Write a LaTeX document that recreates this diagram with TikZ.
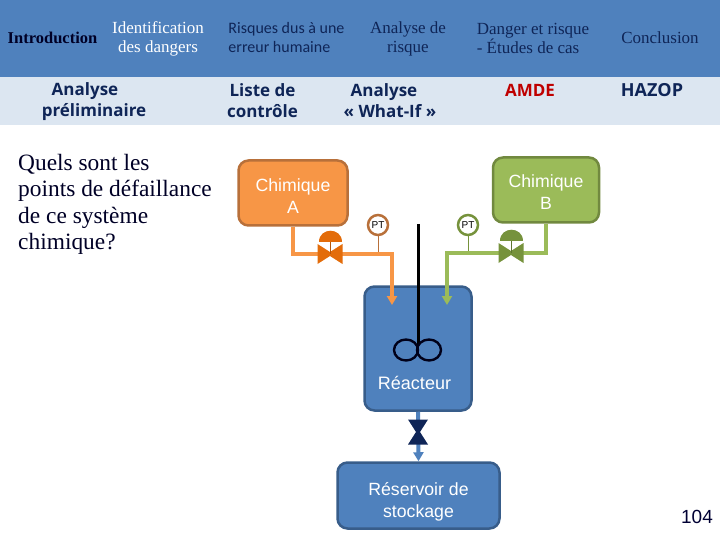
\documentclass[tikz,border=0pt]{standalone}
\usepackage{fontspec}
\setmainfont{Liberation Serif}
\setsansfont{Liberation Sans}
\newfontfamily\fontmenu{Carlito}
\newfontfamily\fontsous{Open Sans}
\usetikzlibrary{arrows.meta}
\definecolor{bleuTitre}{HTML}{4F81BD}
\definecolor{bleuBord}{HTML}{385D8A}
\definecolor{bleuPale}{HTML}{DCE6F1}
\definecolor{marine}{HTML}{0F2557}
\definecolor{orangeFond}{HTML}{F79646}
\definecolor{orangeBord}{HTML}{B8703A}
\definecolor{orangeVanne}{HTML}{E36C0A}
\definecolor{vertFond}{HTML}{9BBB59}
\definecolor{vertBord}{HTML}{71893F}
\definecolor{vertVanne}{HTML}{76923C}
\tikzset{
	menu/.style={inner sep=0pt,align=center,text=marine,font=\fontsize{17}{19}\selectfont},
	sousmenu/.style={inner sep=0pt,align=center,text=marine,font=\fontsous\bfseries\fontsize{17}{21}\selectfont},
	cuve/.style={draw,line width=2.5pt,rounded corners=10pt,align=center,text=white,inner sep=0pt,font=\sffamily\fontsize{17.7}{22}\selectfont},
	tuyau/.style={line width=4pt,-{Triangle[length=9pt,width=10pt]}},
	capteur/.style={circle,draw,fill=white,line width=2.5pt,minimum size=20pt,inner sep=0pt,font=\sffamily\fontsize{10}{10}\selectfont},
	pics/vanne/.style={code={
		\fill[#1] (-12.5,-10) -- (0,-2) -- (12.5,-10) -- (12.5,10) -- (0,2) -- (-12.5,10) -- cycle;
	}},
	pics/dome/.style={code={
		\draw[#1!80!black,line width=0.6pt] (0,-12) -- (0,0);
		\fill[#1] (-11.5,-12) .. controls (-11.5,-27) and (11.5,-27) .. (11.5,-12) -- cycle;
	}}
}
\begin{document}
\begin{tikzpicture}[x=1pt,y=-1pt]
	\useasboundingbox (0,0) rectangle (720,540);

	% bandeaux du haut
	\fill[bleuTitre] (0,0) rectangle (720,77);
	\fill[bleuPale] (0,77) rectangle (720,125);

	% menu
	\node[menu,text=black!85!blue,font=\bfseries\fontsize{16.5}{19}\selectfont] (intro) at (52.5,38) {Introduction};
	\node[menu,text=white] (identif) at (158,39) {Identification\\des dangers};
	\node[menu,align=left,font=\fontmenu\fontsize{16}{19}\selectfont] (risques) at (286.5,37.5) {Risques dus à une\\erreur humaine};
	\node[menu] (analyse) at (408,38.5) {Analyse de\\risque};
	\node[menu,align=left] (danger) at (533,38) {Danger et risque\\- Études de cas};
	\node[menu] (conclusion) at (660,38) {Conclusion};

	% sous-menu
	\node[sousmenu] (prelim) at (94,102) {Analyse\hspace*{18pt}\\préliminaire};
	\node[sousmenu] (liste) at (262.5,100.5) {Liste de\\contrôle};
	\node[sousmenu] (whatif) at (390,100.5) {Analyse\hspace*{12pt}\\« What-If »};
	\node[sousmenu,text=red!75!black] (amde) at (530,90) {AMDE};
	\node[sousmenu,font=\fontsous\bfseries\fontsize{18}{21}\selectfont] (hazop) at (652,90) {HAZOP};

	% question
	\node[inner sep=0pt,align=left,anchor=north west,text=black!85!blue,font=\fontsize{23.4}{26.3}\selectfont] (question) at (18,154) {Quels sont les\\points de défaillance\\de ce système\\chimique?};

	% cuves
	\node[cuve,draw=orangeBord,fill=orangeFond,minimum width=109pt,minimum height=65pt] (chimA) at (293,193) {\rule{0pt}{19pt}Chimique\\A};
	\node[cuve,draw=vertBord,fill=vertFond,minimum width=106pt,minimum height=65pt] (chimB) at (546,190) {\rule{0pt}{17pt}Chimique\\B};
	\node[cuve,draw=bleuBord,fill=bleuTitre,minimum width=107pt,minimum height=124pt] (reacteur) at (418,348.5) {};
	\node[cuve,draw=bleuBord,fill=bleuTitre,minimum width=162pt,minimum height=66pt] (reservoir) at (418.5,495.5) {\rule{0pt}{26pt}Réservoir de\\stockage};

	% points de passage
	\coordinate (vanneA) at (330,254);
	\coordinate (vanneB) at (511,253);
	\coordinate (vanneC) at (418,432);
	\coordinate (coudeA) at (392,254);
	\coordinate (coudeB) at (447,253);
	\coordinate (finA) at (392,305);
	\coordinate (finB) at (447,305);
	\coordinate (haut) at (418,224);
	\coordinate (bas) at (418,345);

	% capteurs
	\node[capteur,draw=orangeBord] (ptA) at (378,225) {PT};
	\node[capteur,draw=vertVanne] (ptB) at (468,225) {PT};
	\draw[orangeBord,line width=0.6pt] (ptA) -- (ptA |- coudeA);
	\draw[vertVanne,line width=0.6pt] (ptB) -- (ptB |- coudeB);

	% agitateur
	\draw[black,line width=3pt] (haut) -- (bas);
	\draw[black!90!blue,line width=2.4pt] (406,350) ellipse (12 and 10.5);
	\draw[black!90!blue,line width=2.4pt] (429,350) ellipse (12 and 10.5);
	\node[inner sep=0pt,text=white,font=\sffamily\fontsize{18}{20}\selectfont] (reacteurtxt) at (414.5,383) {Réacteur};

	% tuyaux
	\draw[tuyau,orangeFond] (chimA.south) |- (coudeA) -- (finA);
	\draw[tuyau,vertFond] (chimB.south) |- (coudeB) -- (finB);
	\draw[tuyau,bleuTitre] (reacteur.south) -- (reservoir.north);

	% vannes
	\pic at (vanneA) {vanne=orangeVanne};
	\pic at (vanneA) {dome=orangeVanne};
	\pic at (vanneB) {vanne=vertVanne};
	\pic at (vanneB) {dome=vertVanne};
	\pic[rotate=90] at (vanneC) {vanne={marine}};

	% numero de page
	\node[inner sep=0pt,text=black!80!blue,font=\sffamily\fontsize{19}{19}\selectfont] (page) at (697,517) {104};
\end{tikzpicture}
\end{document}
